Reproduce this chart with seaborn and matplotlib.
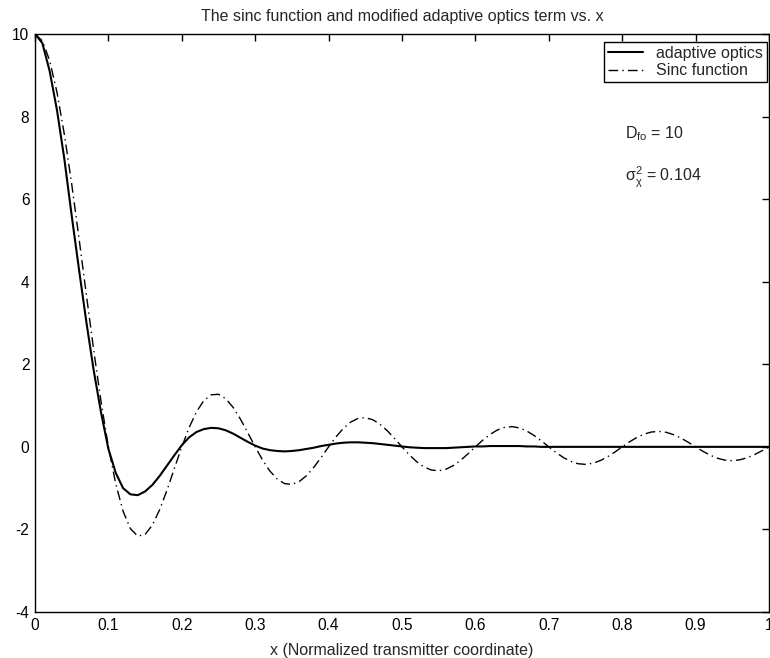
import numpy as np
import pandas as pd
import matplotlib
matplotlib.use("Agg")
import matplotlib.pyplot as plt
import seaborn as sns

# ---- data ----
x_vals = [round(0.01 * i, 2) for i in range(101)]

sinc_vals = [
    10.0, 9.836, 9.355, 8.584, 7.568, 6.366, 5.046, 3.679, 2.339, 1.093,
    0.0, -0.894, -1.559, -1.981, -2.162, -2.122, -1.892, -1.515, -1.039, -0.518,
    0.0, 0.468, 0.850, 1.120, 1.261, 1.273, 1.164, 0.954, 0.668, 0.339,
    0.0, -0.317, -0.585, -0.780, -0.890, -0.909, -0.841, -0.696, -0.492, -0.252,
    0.0, 0.240, 0.445, 0.599, 0.688, 0.707, 0.658, 0.548, 0.390, 0.201,
    0.0, -0.193, -0.360, -0.486, -0.561, -0.579, -0.541, -0.452, -0.323, -0.167,
    0.0, 0.161, 0.302, 0.409, 0.473, 0.490, 0.459, 0.384, 0.275, 0.143,
    0.0, -0.139, -0.260, -0.353, -0.409, -0.424, -0.398, -0.334, -0.240, -0.125,
    0.0, 0.121, 0.228, 0.310, 0.360, 0.374, 0.352, 0.296, 0.213, 0.111,
    0.0, -0.108, -0.203, -0.277, -0.322, -0.335, -0.315, -0.265, -0.191, -0.099,
    0.0,
]

adaptive_vals = [
    10.0, 9.78, 9.10, 8.15, 6.97, 5.60, 4.29, 3.02, 1.85, 0.83,
    -0.05, -0.63, -1.00, -1.15, -1.17, -1.08, -0.92, -0.70, -0.45, -0.20,
    0.04, 0.23, 0.36, 0.43, 0.46, 0.45, 0.40, 0.32, 0.22, 0.12,
    0.03, -0.04, -0.08, -0.10, -0.11, -0.10, -0.08, -0.05, -0.02, 0.02,
    0.05, 0.08, 0.10, 0.11, 0.11, 0.10, 0.09, 0.07, 0.05, 0.03,
    0.01, -0.01, -0.02, -0.03, -0.03, -0.03, -0.03, -0.02, -0.01, 0.00,
    0.01, 0.01, 0.02, 0.02, 0.02, 0.02, 0.02, 0.01, 0.01, 0.00,
    0.00, 0.00, 0.00, 0.00, 0.00, 0.00, 0.00, 0.00, 0.00, 0.00,
    0.00, 0.00, 0.00, 0.00, 0.00, 0.00, 0.00, 0.00, 0.00, 0.00,
    0.00, 0.00, 0.00, 0.00, 0.00, 0.00, 0.00, 0.00, 0.00, 0.00,
    0.00,
]

series_names = ["adaptive optics", "Sinc function"]
x_ticks = [0, 0.1, 0.2, 0.3, 0.4, 0.5, 0.6, 0.7, 0.8, 0.9, 1.0]
x_tick_labels = ["0", "0.1", "0.2", "0.3", "0.4", "0.5", "0.6", "0.7", "0.8", "0.9", "1"]
y_ticks = [-4, -2, 0, 2, 4, 6, 8, 10]
y_tick_labels = ["-4", "-2", "0", "2", "4", "6", "8", "10"]

title_text = "The sinc function and modified adaptive optics term vs. x"
xlabel_text = "x (Normalized transmitter coordinate)"

# ---- style ----
sns.set_theme(style="white")
plt.rcParams["font.family"] = ["Liberation Sans", "DejaVu Sans"]
plt.rcParams["mathtext.fontset"] = "custom"
plt.rcParams["mathtext.rm"] = "Liberation Sans"
plt.rcParams["mathtext.it"] = "Liberation Sans"
plt.rcParams["mathtext.sf"] = "Liberation Sans"

FS = 11.5

fig = plt.figure(figsize=(7.7, 6.58), dpi=100)
ax = fig.add_axes([35 / 770, 1 - 612 / 658, 734 / 770, (612 - 34) / 658])

df = pd.DataFrame({"x": x_vals, "adaptive": adaptive_vals, "sinc": sinc_vals})

sns.lineplot(data=df, x="x", y="adaptive", ax=ax, color="black", lw=1.5,
             label=series_names[0])
sns.lineplot(data=df, x="x", y="sinc", ax=ax, color="black", lw=1.0,
             label=series_names[1])
ax.lines[1].set_dashes((7, 3, 1, 3))

ax.set_xlim(0, 1)
ax.set_ylim(-4, 10)
ax.set_xticks(x_ticks)
ax.set_xticklabels(x_tick_labels)
ax.set_yticks(y_ticks)
ax.set_yticklabels(y_tick_labels)

for s in ax.spines.values():
    s.set_visible(True)
    s.set_color("black")
    s.set_linewidth(1.0)

ax.tick_params(axis="both", which="both", direction="in", length=5, width=1,
               top=True, right=True, labelsize=11.2, colors="black")
ax.tick_params(axis="x", pad=4.5)
ax.tick_params(axis="y", pad=4)

ax.set_title(title_text, fontsize=FS, pad=9)
ax.set_xlabel(xlabel_text, fontsize=FS, labelpad=7)
ax.set_ylabel("")

leg = ax.legend(loc="upper right", bbox_to_anchor=(1 - 2 / 734, 1 - 8 / 578),
                borderaxespad=0, fontsize=FS, frameon=True, fancybox=False,
                edgecolor="black", framealpha=1,
                handlelength=2.2, borderpad=0.25, labelspacing=0.15,
                handletextpad=0.8)
leg.get_frame().set_linewidth(1.0)

ax.text(0.804, 7.48, r"$\mathrm{D_{fo}}$ = 10", fontsize=FS, ha="left",
        va="baseline")
ax.text(0.804, 6.42, r"$\mathrm{\sigma_{\chi}^{2}}$ = 0.104", fontsize=FS,
        ha="left", va="baseline")

fig.savefig("out.png", dpi=100, facecolor="white")
